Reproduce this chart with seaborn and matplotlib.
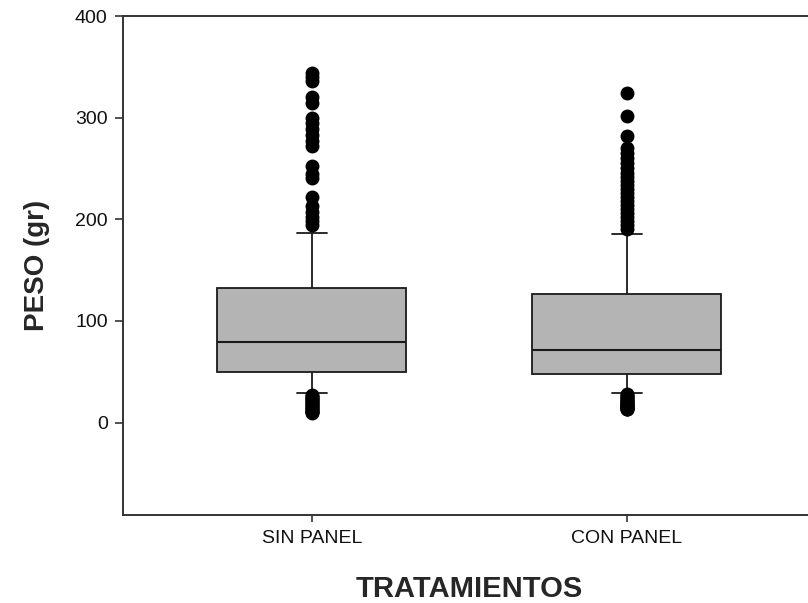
import numpy as np
import pandas as pd
import matplotlib
matplotlib.use("Agg")
import matplotlib.pyplot as plt
import seaborn as sns

groups = ["SIN PANEL", "CON PANEL"]

# summary: 10th pct (lower whisker), Q1, median, Q3, 90th pct (upper whisker)
sin_stats = [29, 50, 79, 132, 187]
con_stats = [29, 48, 71, 126, 186]

# points outside the 10th-90th percentile whiskers
sin_hi = [344, 340, 336, 320, 314, 300, 295, 289, 283, 277,
          272, 252, 245, 241, 222, 213, 207, 202, 198, 194]
sin_lo = [27, 26, 25, 24, 23, 22, 21, 20, 19, 18,
          17, 16, 15, 14, 13, 12, 11, 10, 10, 9]
con_hi = [324, 302, 282, 270, 265, 260, 255, 250, 246, 242, 238, 234,
          230, 226, 222, 218, 214, 210, 206, 202, 198, 194, 190]
con_lo = [28, 27, 26, 25, 24, 23, 22, 21, 20, 20, 19, 18,
          18, 17, 16, 16, 15, 15, 14, 14, 13, 13, 13]


def build_sample(stats, lo, hi):
    # a sample whose 10/25/50/75/90 percentiles hit the read-off values,
    # with the listed outliers as the extreme 10% on each side
    m = len(lo)
    core = np.repeat(stats, [m, 2 * m, 2 * m, 2 * m, m])
    return np.concatenate([lo, core, hi]).astype(float)


sin = build_sample(sin_stats, sin_lo, sin_hi)
con = build_sample(con_stats, con_lo, con_hi)
df = pd.DataFrame({
    "tratamiento": [groups[0]] * len(sin) + [groups[1]] * len(con),
    "peso": np.concatenate([sin, con]),
})

sns.set_style("ticks")
plt.rcParams["font.family"] = ["Liberation Sans", "DejaVu Sans"]

fig = plt.figure(figsize=(8.08, 6.03), dpi=100)
ax = fig.add_axes([0.1522, 0.1459, 0.8577, 0.8275])

sns.boxplot(data=df, x="tratamiento", y="peso", order=groups, ax=ax,
            whis=(10, 90), width=0.6, color="#b4b4b4", saturation=1,
            linecolor="#1a1a1a", linewidth=1.3, fliersize=9,
            flierprops={"marker": "o", "markerfacecolor": "black",
                        "markeredgecolor": "black"},
            medianprops={"color": "#1a1a1a", "linewidth": 1.5},
            capwidths=0.095)

ax.set_xlim(-0.6, 1.6)
ax.set_ylim(-91, 400)
ax.set_yticks([0, 100, 200, 300, 400])

for side in ["left", "bottom", "top", "right"]:
    ax.spines[side].set_visible(True)
    ax.spines[side].set_linewidth(1.4)
    ax.spines[side].set_color("#333333")

ax.tick_params(axis="y", length=6, width=1.2, pad=5, labelsize=14,
               colors="#333333", labelcolor="#111111")
ax.tick_params(axis="x", length=5, width=1.2, pad=6, labelsize=14,
               colors="#333333", labelcolor="#111111")

ax.set_ylabel("PESO (gr)", fontsize=20, fontweight="bold", labelpad=18)
ax.set_xlabel("TRATAMIENTOS", fontsize=21, fontweight="bold", labelpad=20)

fig.savefig("out.png", dpi=100)
